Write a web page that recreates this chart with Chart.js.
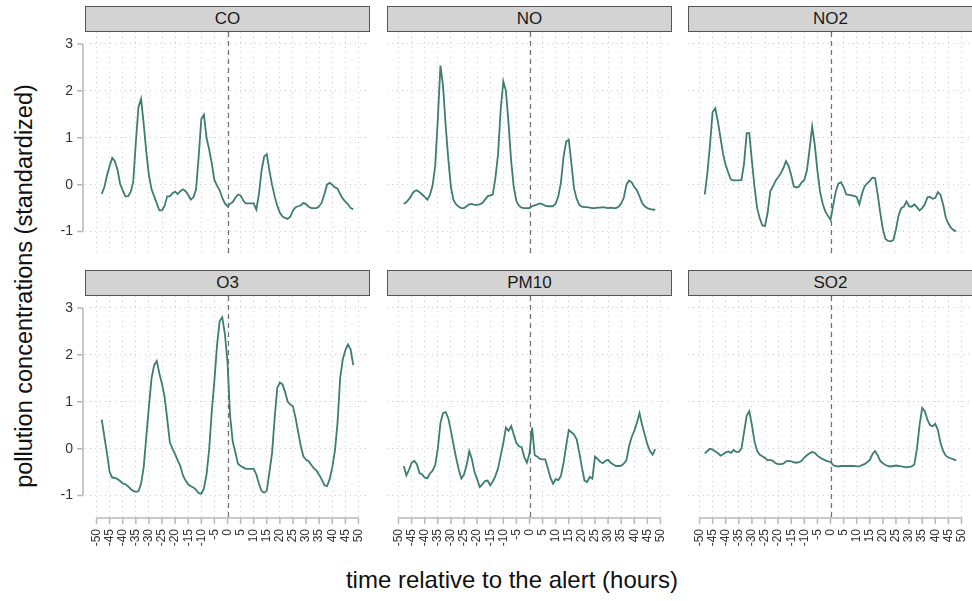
<!DOCTYPE html>
<html lang="en">
<head>
<meta charset="UTF-8">
<title>Pollution concentrations around alerts</title>
<script src="https://cdn.jsdelivr.net/npm/chart.js"></script>
<style>
  body { margin: 0; width: 972px; height: 601px; overflow: hidden; background: #fff;
         position: relative; font-family: "Liberation Sans", Arial, sans-serif; }
  canvas { position: absolute; }
  .strip { position: absolute; box-sizing: border-box; width: 285px; height: 26px;
           background: #d3d3d3; border: 1.5px solid #555; text-align: center;
           font-size: 17px; line-height: 23px; color: #1a1a1a; }
  .title { position: absolute; white-space: nowrap; color: #111;
           transform: translate(-50%, -50%); }
</style>
</head>
<body>
<div class="title" style="left:512px; top:580px; font-size:24px;">time relative to the alert (hours)</div>
<div class="title" style="left:24px; top:286px; font-size:23.5px; transform: translate(-50%, -50%) rotate(-90deg);">pollution concentrations (standardized)</div>
<script>
// hours relative to the alert
const hours = Array.from({ length: 97 }, (_, i) => i - 48);
const xTicks = [-50, -45, -40, -35, -30, -25, -20, -15, -10, -5, 0, 5, 10, 15, 20, 25, 30, 35, 40, 45, 50];
const yTicks = [-1, 0, 1, 2, 3];
const pollutants = ['CO', 'NO', 'NO2', 'O3', 'PM10', 'SO2'];

// standardized concentrations, one value per hour from -48 to 48
const co = [
  -0.2, -0.05, 0.2, 0.4, 0.57, 0.5, 0.32, 0.02, -0.12, -0.25,
  -0.25, -0.16, 0.05, 0.9, 1.65, 1.83, 1.3, 0.7, 0.2, -0.1,
  -0.25, -0.4, -0.55, -0.55, -0.45, -0.25, -0.25, -0.18, -0.15, -0.2,
  -0.14, -0.1, -0.14, -0.22, -0.32, -0.27, -0.1, 0.6, 1.4, 1.49,
  1.0, 0.75, 0.45, 0.1, -0.02, -0.12, -0.28, -0.4,
  -0.46,
  -0.41, -0.37, -0.28, -0.21, -0.23, -0.34, -0.4, -0.4, -0.4, -0.4,
  -0.53, -0.2, 0.3, 0.6, 0.65, 0.3, 0.0, -0.25, -0.45, -0.6,
  -0.68, -0.71, -0.73, -0.68, -0.55, -0.48, -0.46, -0.44, -0.39, -0.42,
  -0.47, -0.5, -0.5, -0.5, -0.46, -0.38, -0.2, 0.0, 0.04, 0.0,
  -0.06, -0.08, -0.2, -0.3, -0.36, -0.42, -0.5, -0.52
];
const no = [
  -0.41, -0.37, -0.31, -0.22, -0.14, -0.12, -0.16, -0.21, -0.26, -0.32,
  -0.22, -0.02, 0.4, 1.4, 2.54, 2.1, 1.25, 0.55, -0.05, -0.33,
  -0.42, -0.47, -0.5, -0.5, -0.46, -0.42, -0.41, -0.43, -0.43, -0.42,
  -0.39, -0.32, -0.25, -0.23, -0.21, 0.15, 0.65, 1.6, 2.2, 2.0,
  1.3, 0.5, -0.05, -0.35, -0.45, -0.49, -0.5, -0.5,
  -0.5,
  -0.46, -0.44, -0.42, -0.4, -0.42, -0.45, -0.46, -0.46, -0.46, -0.4,
  -0.25, 0.05, 0.6, 0.92, 0.96, 0.45, -0.08, -0.3, -0.43, -0.47,
  -0.48, -0.48, -0.49, -0.5, -0.5, -0.49, -0.49, -0.48, -0.49, -0.5,
  -0.49, -0.5, -0.5, -0.47, -0.4, -0.28, 0.0, 0.09, 0.05, -0.05,
  -0.12, -0.25, -0.39, -0.46, -0.5, -0.52, -0.53, -0.54
];
const no2 = [
  -0.21, 0.25, 0.85, 1.55, 1.63, 1.35, 1.0, 0.65, 0.42, 0.25,
  0.11, 0.09, 0.09, 0.09, 0.1, 0.45, 1.1, 1.1, 0.5, -0.05,
  -0.5, -0.72, -0.87, -0.88, -0.6, -0.14, -0.04, 0.08, 0.16, 0.24,
  0.35, 0.5, 0.4, 0.2, -0.04, -0.06, -0.04, 0.05, 0.1, 0.3,
  0.75, 1.24, 0.85, 0.3, -0.15, -0.4, -0.57, -0.66,
  -0.75,
  -0.45, -0.15, 0.02, 0.05, -0.05, -0.21, -0.22, -0.23, -0.24, -0.26,
  -0.42, -0.2, -0.04, 0.03, 0.08, 0.15, 0.14, -0.2, -0.6, -0.95,
  -1.16, -1.2, -1.21, -1.18, -0.95, -0.65, -0.5, -0.47, -0.36, -0.46,
  -0.47, -0.42, -0.48, -0.55, -0.5, -0.42, -0.27, -0.26, -0.3, -0.28,
  -0.16, -0.22, -0.42, -0.7, -0.83, -0.92, -0.97, -1.0
];
const o3 = [
  0.62, 0.25, -0.1, -0.5, -0.62, -0.62, -0.65, -0.69, -0.74, -0.76,
  -0.8, -0.86, -0.9, -0.92, -0.91, -0.75, -0.4, 0.25, 0.9, 1.5,
  1.78, 1.87, 1.6, 1.38, 1.1, 0.63, 0.13, 0.0, -0.12, -0.25,
  -0.37, -0.57, -0.68, -0.76, -0.8, -0.83, -0.88, -0.95, -0.96, -0.85,
  -0.55, -0.02, 0.8, 1.45, 2.2, 2.72, 2.8, 2.45,
  1.85,
  0.7, 0.15, -0.08, -0.32, -0.37, -0.4, -0.43, -0.43, -0.43, -0.43,
  -0.55, -0.75, -0.9, -0.94, -0.9, -0.5, -0.1, 0.65, 1.3, 1.41,
  1.37, 1.2, 1.0, 0.94, 0.9, 0.65, 0.35, 0.05, -0.17, -0.24,
  -0.27, -0.35, -0.42, -0.47, -0.56, -0.66, -0.78, -0.8, -0.65, -0.4,
  -0.05, 0.55, 1.5, 1.9, 2.1, 2.22, 2.12, 1.78
];
const pm10 = [
  -0.37, -0.57, -0.45, -0.3, -0.26, -0.33, -0.52, -0.55, -0.62, -0.63,
  -0.53, -0.47, -0.35, 0.0, 0.55, 0.76, 0.78, 0.65, 0.38, 0.08,
  -0.2, -0.45, -0.64, -0.55, -0.35, -0.05, -0.22, -0.5, -0.65, -0.82,
  -0.76, -0.69, -0.68, -0.78, -0.7, -0.58, -0.42, -0.15, 0.12, 0.45,
  0.38, 0.48, 0.3, 0.12, 0.05, 0.03, -0.18, -0.3,
  -0.1,
  0.45, -0.14, -0.17, -0.22, -0.23, -0.23, -0.42, -0.62, -0.75, -0.65,
  -0.67, -0.58, -0.3, 0.06, 0.4, 0.35, 0.3, 0.2, -0.08, -0.4,
  -0.68, -0.71, -0.6, -0.64, -0.17, -0.22, -0.28, -0.31, -0.26, -0.24,
  -0.3, -0.34, -0.37, -0.37, -0.36, -0.32, -0.25, 0.05, 0.25, 0.38,
  0.55, 0.76, 0.5, 0.3, 0.09, -0.05, -0.13, -0.01
];
const so2 = [
  -0.1, -0.05, 0.0, -0.02, -0.06, -0.09, -0.15, -0.12, -0.08, -0.06,
  -0.09, -0.03, -0.07, -0.07, 0.0, 0.35, 0.7, 0.8, 0.5, 0.15,
  -0.05, -0.13, -0.16, -0.2, -0.25, -0.24, -0.26, -0.31, -0.33, -0.33,
  -0.32, -0.27, -0.26, -0.27, -0.29, -0.3, -0.29, -0.26, -0.19, -0.14,
  -0.1, -0.07, -0.09, -0.15, -0.19, -0.22, -0.25, -0.27,
  -0.28,
  -0.35, -0.37, -0.38, -0.37, -0.37, -0.37, -0.37, -0.37, -0.37, -0.38,
  -0.38, -0.35, -0.33, -0.29, -0.24, -0.12, -0.05, -0.14, -0.26, -0.31,
  -0.35, -0.37, -0.38, -0.37, -0.36, -0.37, -0.38, -0.39, -0.4, -0.39,
  -0.38, -0.34, 0.0, 0.5, 0.87, 0.8, 0.62, 0.5, 0.48, 0.53,
  0.4, 0.12, -0.05, -0.15, -0.19, -0.21, -0.23, -0.25
];
const series = [co, no, no2, o3, pm10, so2];

const lineColor = '#3d7d72';
const axisColor = '#b8b8b8';
const colLeft = [85, 387, 688];
const rowTop = [32, 296];
const plotW = 285, plotH = 223;
const yAxisW = 45, xAxisH = 40;

// dashed alert marker plus base-style axis lines that span only the tick range
const decorations = {
  id: 'decorations',
  beforeDatasetsDraw(chart, args, opts) {
    const { ctx, chartArea: a, scales: { x, y } } = chart;
    ctx.save();
    const x0 = Math.round(x.getPixelForValue(0)) + 0.5;
    ctx.strokeStyle = '#707070';
    ctx.lineWidth = 1.2;
    ctx.setLineDash([5, 4]);
    ctx.beginPath();
    ctx.moveTo(x0, a.top);
    ctx.lineTo(x0, a.bottom);
    ctx.stroke();
    ctx.setLineDash([]);
    ctx.strokeStyle = axisColor;
    ctx.lineWidth = 1.5;
    if (opts.yAxis) {
      const ax = a.left - 2;
      ctx.beginPath();
      ctx.moveTo(ax, y.getPixelForValue(yTicks[yTicks.length - 1]));
      ctx.lineTo(ax, y.getPixelForValue(yTicks[0]));
      yTicks.forEach(v => {
        const py = y.getPixelForValue(v);
        ctx.moveTo(ax, py);
        ctx.lineTo(ax - 6, py);
      });
      ctx.stroke();
    }
    if (opts.xAxis) {
      const ay = a.bottom - 1;
      ctx.beginPath();
      ctx.moveTo(x.getPixelForValue(xTicks[0]), ay);
      ctx.lineTo(x.getPixelForValue(xTicks[xTicks.length - 1]), ay);
      xTicks.forEach(v => {
        const px = x.getPixelForValue(v);
        ctx.moveTo(px, ay);
        ctx.lineTo(px, ay + 6);
      });
      ctx.stroke();
    }
    ctx.restore();
  }
};

Chart.defaults.font.family = '"Liberation Sans", Arial, sans-serif';

pollutants.forEach((name, i) => {
  const row = Math.floor(i / 3), col = i % 3;
  const showY = col === 0, showX = row === 1;

  const strip = document.createElement('div');
  strip.className = 'strip';
  strip.style.left = colLeft[col] + 'px';
  strip.style.top = (rowTop[row] - 26) + 'px';
  strip.textContent = name;
  document.body.appendChild(strip);

  const canvas = document.createElement('canvas');
  const w = plotW + (showY ? yAxisW : 0);
  const h = plotH + (showX ? xAxisH : 0);
  canvas.width = w;
  canvas.height = h;
  canvas.style.left = (colLeft[col] - (showY ? yAxisW : 0)) + 'px';
  canvas.style.top = rowTop[row] + 'px';
  document.body.appendChild(canvas);

  new Chart(canvas, {
    type: 'line',
    data: {
      labels: hours,
      datasets: [{
        label: name,
        data: hours.map((hr, k) => ({ x: hr, y: series[i][k] })),
        borderColor: lineColor,
        borderWidth: 1.8,
        pointRadius: 0,
        tension: 0,
        fill: false
      }]
    },
    options: {
      responsive: false,
      animation: false,
      layout: { padding: 0, autoPadding: false },
      plugins: {
        legend: { display: false },
        tooltip: { enabled: false },
        decorations: { yAxis: showY, xAxis: showX }
      },
      scales: {
        x: {
          type: 'linear',
          min: -54.4,
          max: 54.4,
          afterBuildTicks: s => { s.ticks = xTicks.map(v => ({ value: v })); },
          afterFit: s => { s.height = showX ? xAxisH : 0; s.paddingLeft = 0; s.paddingRight = 0; },
          grid: { color: '#cfcfcf', lineWidth: 1, drawTicks: false },
          border: { display: false, dash: [1, 4] },
          ticks: {
            display: showX,
            autoSkip: false,
            minRotation: 90,
            maxRotation: 90,
            padding: 10,
            color: '#333',
            font: { size: 12 }
          }
        },
        y: {
          min: -1.5,
          max: 3.255,
          afterBuildTicks: s => { s.ticks = yTicks.map(v => ({ value: v })); },
          afterFit: s => { s.width = showY ? yAxisW : 0; s.paddingTop = 0; s.paddingBottom = 0; },
          grid: { color: '#cfcfcf', lineWidth: 1, drawTicks: false },
          border: { display: false, dash: [1, 4] },
          ticks: {
            display: showY,
            padding: 12,
            color: '#333',
            font: { size: 14 }
          }
        }
      }
    },
    plugins: [decorations]
  });
});
</script>
</body>
</html>
